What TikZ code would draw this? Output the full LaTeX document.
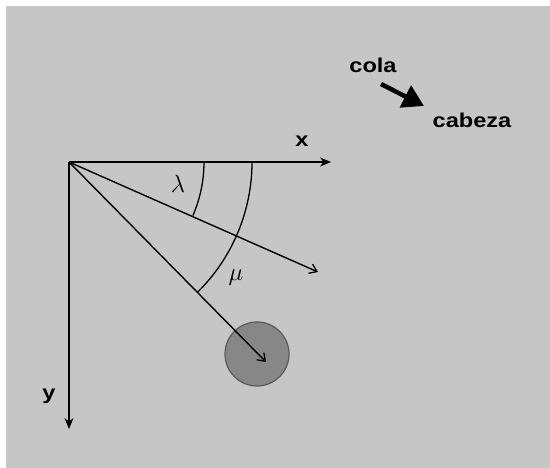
\documentclass[tikz,border=0pt]{standalone}
\usepackage{fontspec}
\setsansfont{Liberation Sans}
\usetikzlibrary{arrows.meta}
\definecolor{bggray}{RGB}{198,198,198}
\definecolor{ballgray}{RGB}{135,135,135}
\definecolor{ballrim}{RGB}{90,90,90}
\newcommand{\widetxt}[1]{\scalebox{1.18}[1]{#1}}
\begin{document}
\begin{tikzpicture}[x=1pt,y=-1pt,
  axis/.style={line width=1.6pt,-{Stealth[length=11pt,width=9pt]}},
  ray/.style={line width=1.4pt,-{Straight Barb[length=7pt,width=10pt,line width=1.3pt]}},
  arcline/.style={line width=1.3pt},
  lbl/.style={font=\sffamily\bfseries\fontsize{20}{22}\selectfont,inner sep=0pt},
  greek/.style={font=\fontsize{24}{26}\selectfont,inner sep=0pt}]
\useasboundingbox (0,0) rectangle (550,468);
\fill[white] (0,0) rectangle (550,468);
\fill[bggray] (6,6) rectangle (550,468);
% ball
\node[circle,minimum size=64pt,fill=ballgray,draw=ballrim,line width=1.2pt,inner sep=0pt] (ball) at (257,354) {};
% origin and ends
\coordinate (O) at (69,162);
\coordinate (xend) at (331,162);
\coordinate (yend) at (69,429);
\coordinate (lend) at (318,272);
\coordinate (mend) at (266,362);
\draw[axis] (O) -- (xend);
\draw[axis] (O) -- (yend);
\draw[ray] (O) -- (lend);
\draw[ray] (O) -- (mend);
% arcs
\draw[arcline] (O) ++(0:135) arc[start angle=0,end angle=23.4,radius=135];
\draw[arcline] (O) ++(0:183) arc[start angle=0,end angle=45.4,radius=183];
% labels
\node[lbl] (xl) at (302,141) {\widetxt{x}};
\node[lbl] (yl) at (49,396) {\widetxt{y}};
\node[greek] (lam) at (178,184) {$\lambda$};
\node[greek] (mu) at (236,278) {$\mu$};
% cola -> cabeza
\node[lbl] (cola) at (373,65) {\widetxt{cola}};
\node[lbl] (cabeza) at (472,120) {\widetxt{cabeza}};
\coordinate (ta) at (381,84);
\coordinate (tb) at (424,106);
\draw[line width=4.5pt,-{Triangle[length=21pt,width=24pt]}] (ta) -- (tb);
\end{tikzpicture}
\end{document}
